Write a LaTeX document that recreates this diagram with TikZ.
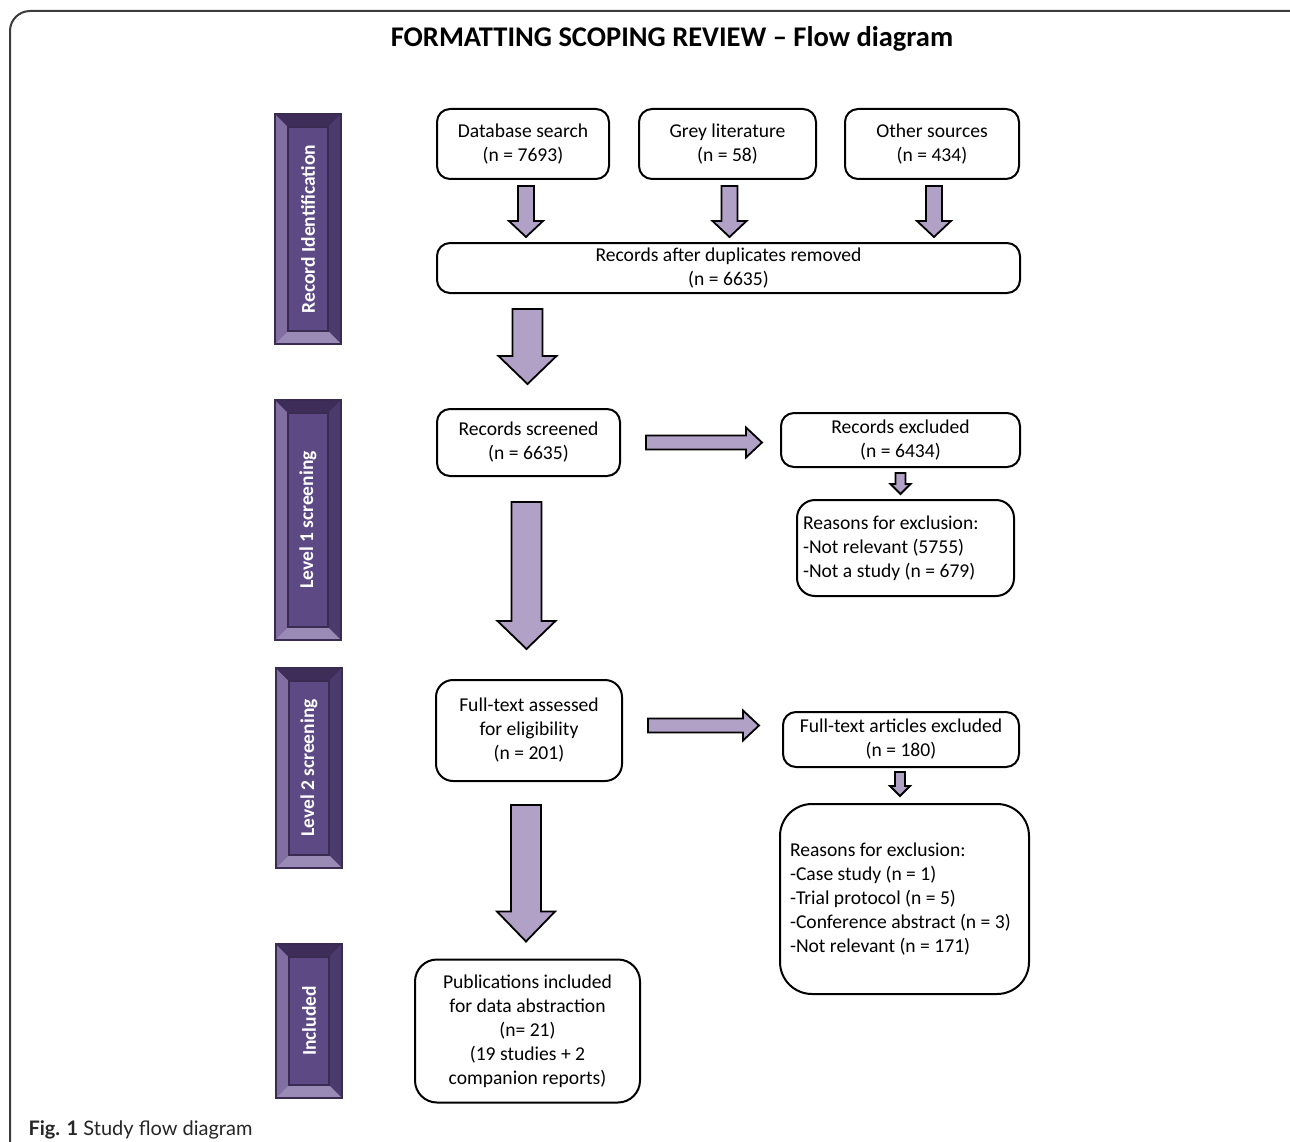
\documentclass[tikz,border=0pt]{standalone}
\usepackage{fontspec}
\setmainfont{Carlito}
\newfontfamily\capfont{Lato}
\usepackage{tikz}
\usetikzlibrary{calc}
\definecolor{arrowfill}{HTML}{B2A1C7}
\definecolor{tabface}{HTML}{5D4A84}
\definecolor{tabedge}{HTML}{3A2B52}
\definecolor{tableft}{HTML}{806FA0}
\definecolor{tabtop}{HTML}{3D2D58}
\definecolor{tabright}{HTML}{4B3A6C}
\definecolor{tabbottom}{HTML}{9A8AB6}
\definecolor{framegrey}{HTML}{3C3C3C}
\tikzset{
  box/.style={draw, line width=2pt, rounded corners=13pt, align=center, inner sep=0pt,
    font=\fontsize{19.6}{24}\selectfont},
  reasonbox/.style={box, align=flush left},
  blk/.style={fill=arrowfill, draw=black, line width=1.8pt, line join=miter},
  stagetab/.style={fill=tabface, draw=tabedge, line width=1.5pt, inner sep=0pt, minimum width=66pt,
    path picture={
      \coordinate (ppsw) at (path picture bounding box.south west);
      \coordinate (ppne) at (path picture bounding box.north east);
      \coordinate (ppnw) at (path picture bounding box.north west);
      \coordinate (ppse) at (path picture bounding box.south east);
      \fill[tableft] (ppsw) -- (ppnw) -- ([shift={(13pt,-13pt)}]ppnw) -- ([shift={(13pt,13pt)}]ppsw) -- cycle;
      \fill[tabtop] (ppnw) -- (ppne) -- ([shift={(-13pt,-13pt)}]ppne) -- ([shift={(13pt,-13pt)}]ppnw) -- cycle;
      \fill[tabright] (ppne) -- (ppse) -- ([shift={(-13pt,13pt)}]ppse) -- ([shift={(-13pt,-13pt)}]ppne) -- cycle;
      \fill[tabbottom] (ppse) -- (ppsw) -- ([shift={(13pt,13pt)}]ppsw) -- ([shift={(-13pt,13pt)}]ppse) -- cycle;
      \draw[tabedge, line width=1.2pt] ([shift={(13pt,13pt)}]ppsw) rectangle ([shift={(-13pt,-13pt)}]ppne);
    }},
  stagetext/.style={rotate=90, text=white, font=\bfseries\fontsize{19.5}{22}\selectfont},
}
% block arrows: start, tip, shaft width, head width, head length
\newcommand\blockdown[5]{%
  \filldraw[blk] let \p1=#1, \p2=#2 in
    (\x1-#3/2,\y1) -- (\x1+#3/2,\y1) -- (\x1+#3/2,\y2+#5) -- (\x1+#4/2,\y2+#5)
    -- (\x1,\y2) -- (\x1-#4/2,\y2+#5) -- (\x1-#3/2,\y2+#5) -- cycle;}
\newcommand\blockright[5]{%
  \filldraw[blk] let \p1=#1, \p2=#2 in
    (\x1,\y1+#3/2) -- (\x2-#5,\y1+#3/2) -- (\x2-#5,\y1+#4/2) -- (\x2,\y1)
    -- (\x2-#5,\y1-#4/2) -- (\x2-#5,\y1-#3/2) -- (\x1,\y1-#3/2) -- cycle;}

\begin{document}
\begin{tikzpicture}[x=1pt,y=-1pt]
\useasboundingbox (0,0) rectangle (1290,1142);
\draw[framegrey, line width=2pt, rounded corners=20pt] (1292,11) -- (10,11) -- (10,1150);
\node[font=\bfseries\fontsize{28.5}{32}\selectfont] (title) at (672,39) {FORMATTING SCOPING REVIEW – Flow diagram};

\node[stagetab, minimum height=230pt, label={[stagetext]center:Record Identification}] (idtab) at (308,229) {};
\node[stagetab, minimum height=240pt, label={[stagetext]center:Level 1 screening}] (lvlonetab) at (308,520) {};
\node[stagetab, minimum height=200pt, label={[stagetext]center:Level 2 screening}] (lvltwotab) at (309,768) {};
\node[stagetab, minimum height=154pt, label={[stagetext]center:Included}] (inctab) at (309,1021) {};

\node[box, minimum width=172pt, minimum height=70pt] (db) at (523,144) {Database search\\(n = 7693)};
\node[box, minimum width=177pt, minimum height=70pt] (grey) at (727.5,144) {Grey literature\\(n = 58)};
\node[box, minimum width=174pt, minimum height=70pt] (other) at (932,144) {Other sources\\(n = 434)};
\node[box, minimum width=583pt, minimum height=50pt] (dup) at (728.5,268) {Records after duplicates removed\\(n = 6635)};
\node[box, minimum width=183pt, minimum height=67pt] (screened) at (528.5,442.5) {Records screened\\(n = 6635)};
\node[box, minimum width=239pt, minimum height=54pt] (exclone) at (900.5,440) {Records excluded\\(n = 6434)};
\node[reasonbox, rounded corners=18pt, text width=205pt, minimum height=96pt, inner xsep=6pt] (reasonsone) at (905.5,548)
  {Reasons for exclusion:\\-Not relevant (5755)\\-Not a study (n = 679)};
\node[box, rounded corners=17pt, minimum width=186pt, minimum height=101pt] (fulltext) at (529,730.5) {Full-text assessed\\for eligibility\\(n = 201)};
\node[box, minimum width=236pt, minimum height=55pt] (excltwo) at (901,739.5) {Full-text articles excluded\\(n = 180)};
\node[reasonbox, rounded corners=32pt, text width=229pt, minimum height=190pt, inner xsep=10pt] (reasonstwo) at (904.5,899)
  {Reasons for exclusion:\\-Case study (n = 1)\\-Trial protocol (n = 5)\\-Conference abstract (n = 3)\\-Not relevant (n = 171)};
\node[box, rounded corners=22pt, minimum width=225pt, minimum height=143pt] (included) at (527.5,1031)
  {Publications included\\for data abstraction\\(n= 21)\\(19 studies + 2\\companion reports)};

\blockdown{($(db.south)+(3,6)$)}{($(db.south|-dup.north)+(3,-5)$)}{16pt}{34pt}{16pt}
\blockdown{($(grey.south)+(2,6)$)}{($(grey.south|-dup.north)+(2,-5)$)}{16pt}{34pt}{16pt}
\blockdown{($(other.south)+(2,6)$)}{($(other.south|-dup.north)+(2,-5)$)}{16pt}{34pt}{16pt}
\blockdown{($(dup.south-|screened.north)+(-1,15)$)}{($(screened.north)+(-1,-24)$)}{30pt}{58pt}{28pt}
\blockdown{($(screened.south)+(-2,25)$)}{($(screened.south|-fulltext.north)+(-2,-30)$)}{30pt}{58pt}{28pt}
\blockdown{($(fulltext.south)+(-3,23)$)}{($(fulltext.south|-included.north)+(-3,-17)$)}{30pt}{58pt}{30pt}
\blockright{($(screened.east)+(25,0)$)}{($(exclone.west|-screened.east)+(-18,0)$)}{14pt}{30pt}{16pt}
\blockright{($(fulltext.east)+(25,-5)$)}{($(excltwo.west|-fulltext.east)+(-23,-5)$)}{14pt}{30pt}{16pt}
\blockdown{($(exclone.south)+(0,5)$)}{($(reasonsone.north-|exclone.south)+(0,-5)$)}{10pt}{20pt}{10pt}
\blockdown{($(excltwo.south)+(-1,4)$)}{($(reasonstwo.north-|excltwo.south)+(-1,-7)$)}{10pt}{20pt}{10pt}

\node[anchor=base west, font=\capfont\fontsize{20}{22}\selectfont, text=black!85] (caption) at (25,1135)
  {\textbf{Fig. 1} Study flow diagram};
\end{tikzpicture}
\end{document}
